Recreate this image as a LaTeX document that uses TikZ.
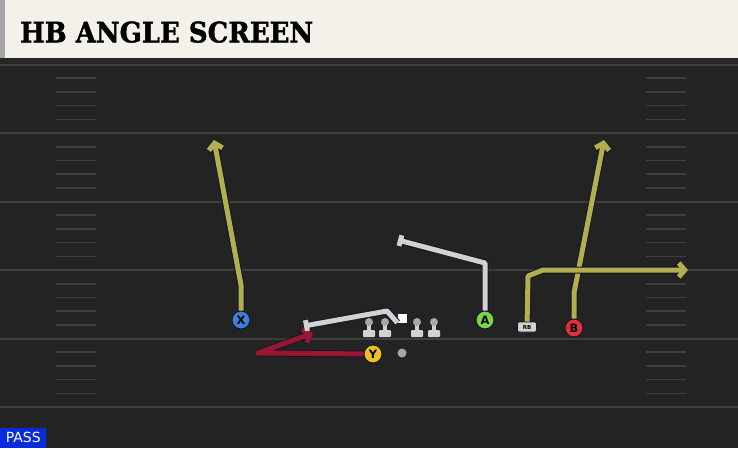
\documentclass[tikz,border=0pt]{standalone}
\usepackage{xcolor}
\usepackage{tikz}
\usepackage{fontspec}
\setsansfont{DejaVu Sans}
\newfontfamily\titlefont[BoldFeatures={FakeBold=1.5}]{DejaVu Serif}
\definecolor{fieldbg}{RGB}{35, 35, 35}
\definecolor{yardgray}{RGB}{62, 62, 62}
\definecolor{titlebg}{RGB}{243, 241, 234}
\definecolor{routeyellow}{RGB}{180, 175, 78}
\definecolor{routered}{RGB}{155, 20, 49}
\definecolor{routegrey}{RGB}{210, 210, 210}
\definecolor{routeedge}{RGB}{20, 24, 38}
\definecolor{xblue}{RGB}{61, 127, 217}
\definecolor{yyellow}{RGB}{240, 192, 32}
\definecolor{agreen}{RGB}{121, 212, 74}
\definecolor{bred}{RGB}{224, 49, 63}
\definecolor{passblue}{RGB}{10, 43, 217}
\usetikzlibrary{arrows.meta, positioning, shapes}

\begin{document}
\begin{tikzpicture}[
    x=1pt, y=-1pt,
    player/.style={circle, draw=routeedge, line width=1pt, minimum size=18pt, inner sep=0pt, font=\sffamily\bfseries\fontsize{11.5}{11.5}\selectfont},
    route/.style={line width=5pt, line join=round, preaction={draw=routeedge, line width=7pt, line join=round}},
    runarrow/.style={-{Straight Barb[length=6pt, width=14pt]}},
    blockend/.style={-{Bar[width=11pt]}},
    yard/.style={draw=yardgray, line width=2pt},
    hash/.style={draw=yardgray, line width=1.6pt},
    lineman/.pic={
        \fill[routegrey] (-2.2,3) rectangle (2.2,13);
        \fill[routegrey, rounded corners=1pt] (-6,12) rectangle (6,19);
        \fill[routegrey!80!black] (0,4) circle (4);
    }
]
    \useasboundingbox (0,0) rectangle (738,448);

    % field and title bar
    \fill[fieldbg] (0,58) rectangle (738,448);
    \fill[titlebg] (0,0) rectangle (738,58);
    \fill[gray!70] (0,0) rectangle (5,58);
    \fill[black!85] (0,58) rectangle (738,63);
    \foreach \k in {0,...,5}
        \draw[yard] (0,64.5+68.5*\k) -- (738,64.5+68.5*\k);
    \foreach \k in {0,...,4}
        \foreach \j in {1,...,4} {
            \draw[hash] (56,64.5+68.5*\k+13.7*\j) -- (96,64.5+68.5*\k+13.7*\j);
            \draw[hash] (646,64.5+68.5*\k+13.7*\j) -- (686,64.5+68.5*\k+13.7*\j);
        }

    \node[anchor=south west, inner sep=0pt] (title) at (20,43)
        {\resizebox{293pt}{21pt}{\titlefont\bfseries HB ANGLE SCREEN}};

    % line
    \pic at (369,318) {lineman};
    \pic at (385,318) {lineman};
    \pic at (417,318) {lineman};
    \pic at (434,318) {lineman};
    \node[rectangle, fill=white, minimum size=9pt, inner sep=0pt] (c) at (402,318) {};
    \node[circle, fill=gray!70, minimum size=9pt, inner sep=0pt] (ball) at (402,353) {};

    % skill players
    \node[player, fill=xblue] (x) at (241,320) {X};
    \node[player, fill=yyellow] (y) at (373,354) {Y};
    \node[player, fill=agreen] (a) at (485,320) {A};
    \node[player, fill=bred] (b) at (574,328) {B};
    \node[rectangle, rounded corners=2pt, fill=routegrey, draw=routeedge, line width=0.6pt,
          minimum width=19pt, minimum height=10pt, inner sep=0pt,
          font=\sffamily\bfseries\fontsize{5.5}{5.5}\selectfont] (rb) at (527,327) {RB};

    \coordinate (xend) at (214,140);
    \coordinate (yend) at (313,333);
    \coordinate (cend) at (304,326);
    \coordinate (aend) at (398,240);
    \coordinate (rbend) at (688,270);
    \coordinate (bend) at (604,140);

    % routes
    \draw[route, runarrow, draw=routeyellow] (x) -- (241,285) -- (xend);
    \draw[route, runarrow, draw=routered] (y) -- (258,353) -- (yend);
    \draw[route, blockend, draw=routegrey] (c.south west) -- (387,311) -- (cend);
    \draw[route, blockend, draw=routegrey] (a) -- (485,263) -- (aend);
    \draw[route, runarrow, draw=routeyellow] (b) -- (574,293) -- (bend);
    \draw[route, runarrow, draw=routeyellow] (rb) -- (528,276) -- (543,270) -- (rbend);

    \node[fill=passblue, text=white, anchor=south west, minimum width=46pt, minimum height=20pt,
          inner sep=0pt, font=\sffamily\fontsize{14}{14}\selectfont] (pass) at (0,448) {PASS};
\end{tikzpicture}
\end{document}
